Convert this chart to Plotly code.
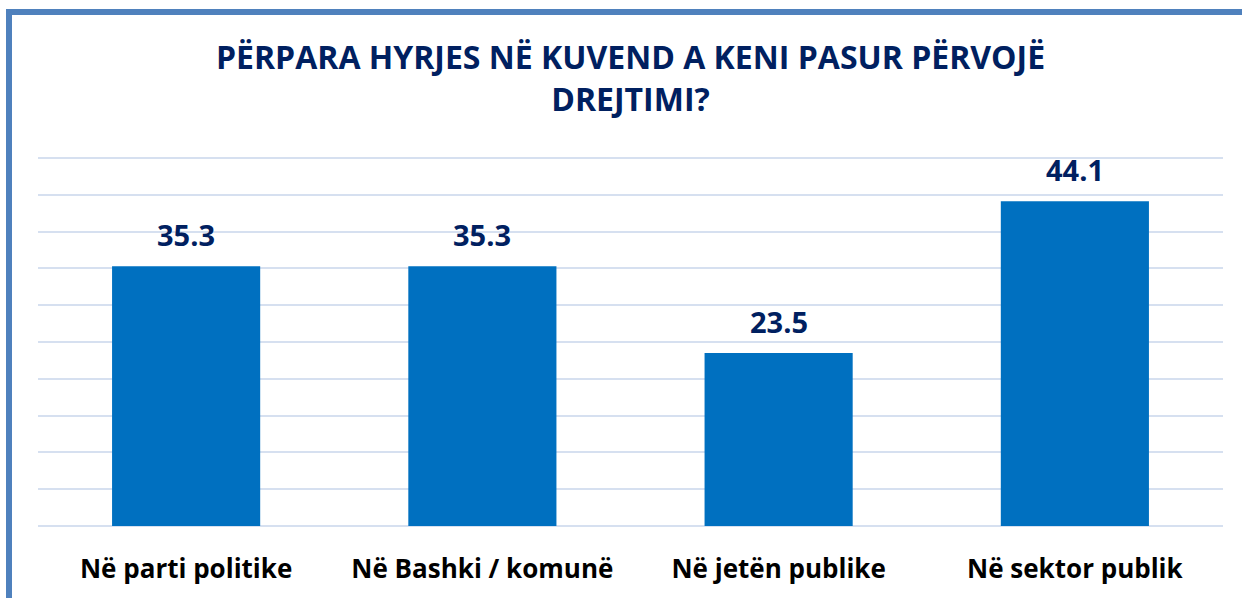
import plotly.graph_objects as go

categories = ["Në parti politike", "Në Bashki / komunë", "Në jetën publike", "Në sektor publik"]
values = [35.3, 35.3, 23.5, 44.1]
value_labels = ["35.3", "35.3", "23.5", "44.1"]
title_text = "PËRPARA HYRJES NË KUVEND A KENI PASUR PËRVOJË<br>DREJTIMI?"

W, H = 1242, 598
L, R, B = 38, 1223, 526
YMAX = 50.4
T = round(B - 368 * YMAX / 50)

fig = go.Figure(go.Bar(
    x=categories, y=values,
    marker=dict(color="#0070C0", line=dict(width=0)),
))

for c, v, t in zip(categories, values, value_labels):
    fig.add_annotation(x=c, y=v, text=t, showarrow=False, yanchor="bottom", yshift=10,
                       font=dict(family="Open Sans", size=29, color="#002060", weight="bold"))

pw, ph = R - L, B - T
fig.update_layout(
    width=W, height=H,
    margin=dict(l=L, r=W - R, t=T, b=H - B, pad=0),
    paper_bgcolor="white", plot_bgcolor="white",
    bargap=0.5,
    showlegend=False,
    title=dict(text=title_text, x=0.5, xref="paper", xanchor="center",
               y=1 - 69 / H, yanchor="top", yref="container",
               font=dict(family="Open Sans", size=32, color="#002060", weight="bold")),
    xaxis=dict(showgrid=False, showline=False, zeroline=False,
               ticks="outside", ticklen=20, tickcolor="rgba(0,0,0,0)",
               tickfont=dict(family="Open Sans", size=26, color="black", weight="bold")),
    yaxis=dict(range=[0, YMAX], dtick=5, showticklabels=False, showgrid=True,
               gridcolor="#D6E0F0", gridwidth=2, zeroline=True, zerolinecolor="#D6E0F0",
               zerolinewidth=2, showline=False),
    shapes=[
        dict(type="line", xref="paper", yref="paper",
             x0=(9 - L) / pw, x1=(9 - L) / pw, y0=(B - 12) / ph, y1=(B - 610) / ph,
             line=dict(color="#4F81BD", width=6)),
        dict(type="line", xref="paper", yref="paper",
             x0=(6 - L) / pw, x1=(1250 - L) / pw, y0=(B - 12) / ph, y1=(B - 12) / ph,
             line=dict(color="#4F81BD", width=6)),
    ],
)

fig.write_html("out.html", config={"displayModeBar": False},
               post_script="document.body.style.margin='0';document.body.style.overflow='hidden';")
